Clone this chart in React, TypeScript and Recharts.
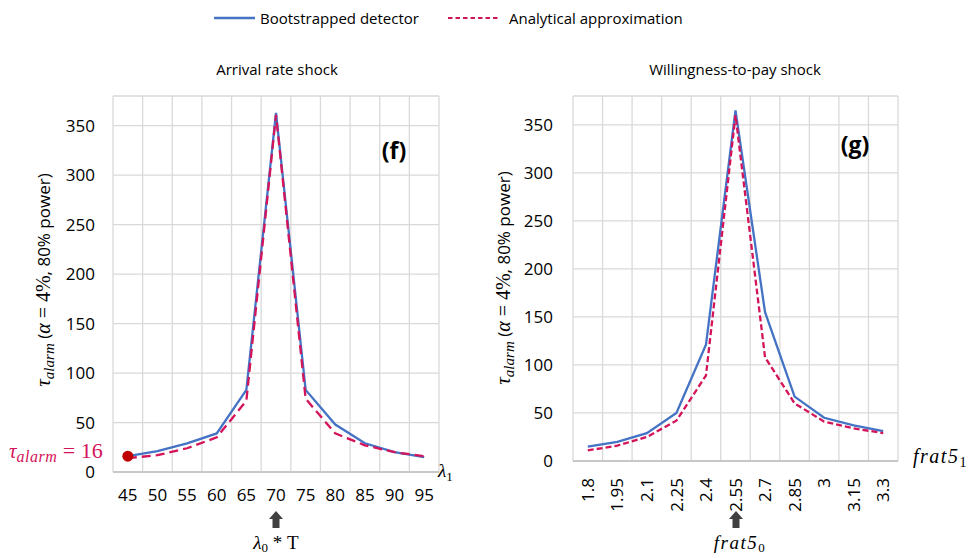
import React from "react";
import {
  LineChart,
  Line,
  XAxis,
  YAxis,
  CartesianGrid,
  ReferenceDot,
} from "recharts";

// arrival rate shock (panel f)
const lambdaLabels = ["45", "50", "55", "60", "65", "70", "75", "80", "85", "90", "95"];
const bootArrival = [16, 21, 29, 39, 83, 363, 83, 48, 29, 20, 15];
const approxArrival = [14, 17, 24, 35, 72, 361, 74, 39, 27, 20, 16];

// willingness-to-pay shock (panel g)
const fratLabels = ["1.8", "1.95", "2.1", "2.25", "2.4", "2.55", "2.7", "2.85", "3", "3.15", "3.3"];
const bootWtp = [15, 20, 29, 50, 121, 365, 155, 67, 45, 37, 31];
const approxWtp = [11, 16, 25, 42, 89, 360, 108, 60, 41, 34, 29];

const yTicks = [0, 50, 100, 150, 200, 250, 300, 350];
const alarmAt = 16;

const BLUE = "#4472C4";
const RED = "#D4145A";
const GRID = "#D9D9D9";
const SANS = "'Open Sans', sans-serif";
const MATH = "'Liberation Serif', serif";

const idx = lambdaLabels.map((_, i) => i);
const bounds = [...idx.map((i) => i - 0.5), idx.length - 0.5];

const arrivalData = lambdaLabels.map((c, i) => ({
  i,
  cat: c,
  boot: bootArrival[i],
  approx: approxArrival[i],
}));
const wtpData = fratLabels.map((c, i) => ({
  i,
  cat: c,
  boot: bootWtp[i],
  approx: approxWtp[i],
}));

const tickStyle = { fontFamily: SANS, fontSize: 17, fill: "#000" };

function RotatedTick({ x, y, payload }: any) {
  return (
    <g transform={`translate(${x},${y})`}>
      <text
        transform="rotate(-90)"
        x={-15}
        dy="0.36em"
        textAnchor="end"
        style={tickStyle}
      >
        {fratLabels[payload.value]}
      </text>
    </g>
  );
}

function YLabel({ x, y }: { x: number; y: number }) {
  return (
    <text
      transform={`translate(${x},${y}) rotate(-90)`}
      textAnchor="middle"
      fontFamily={SANS}
      fontSize={17}
    >
      <tspan fontFamily={MATH} fontStyle="italic" fontSize={21}>τ</tspan>
      <tspan fontFamily={MATH} fontStyle="italic" fontSize={15} dy={4}>alarm</tspan>
      <tspan dy={-4}> (</tspan>
      <tspan fontFamily={MATH} fontStyle="italic" fontSize={20}>α</tspan>
      <tspan fontFamily={MATH} fontSize={20}> = 4%</tspan>
      <tspan>, 80% power)</tspan>
    </text>
  );
}

function UpArrow({ cx }: { cx: number }) {
  const p = `${cx},511 ${cx + 7},519 ${cx + 3.5},519 ${cx + 3.5},528 ${cx - 3.5},528 ${cx - 3.5},519 ${cx - 7},519`;
  return <polygon points={p} fill="#404040" />;
}

export default function App() {
  return (
    <div
      style={{
        position: "absolute",
        left: 0,
        top: 0,
        width: 971,
        height: 558,
        background: "#fff",
        overflow: "hidden",
      }}
    >
      <div style={{ position: "absolute", left: 0, top: 0 }}>
        <LineChart
          width={480}
          height={558}
          data={arrivalData}
          margin={{ top: 96, right: 41, bottom: 56, left: 0 }}
        >
          <XAxis
            xAxisId="grid"
            type="number"
            dataKey="i"
            domain={[-0.5, 10.5]}
            ticks={bounds}
            hide
          />
          <CartesianGrid xAxisId="grid" stroke={GRID} strokeWidth={1.3} />
          <XAxis
            type="number"
            dataKey="i"
            domain={[-0.5, 10.5]}
            ticks={idx}
            tickFormatter={(v) => lambdaLabels[v]}
            interval={0}
            height={30}
            tickLine={false}
            tickSize={0}
            tickMargin={17}
            axisLine={{ stroke: "#BFBFBF", strokeWidth: 1.3 }}
            tick={tickStyle}
          />
          <YAxis
            width={113}
            domain={[0, 380]}
            ticks={yTicks}
            interval={0}
            tickLine={false}
            axisLine={false}
            tickSize={0}
            tickMargin={18}
            tick={tickStyle}
          />
          <Line
            dataKey="boot"
            stroke={BLUE}
            strokeWidth={2.3}
            dot={false}
            isAnimationActive={false}
          />
          <Line
            dataKey="approx"
            stroke={RED}
            strokeWidth={2.3}
            strokeDasharray="9 5"
            dot={false}
            isAnimationActive={false}
          />
          <ReferenceDot x={0} y={alarmAt} r={5.5} fill="#C00000" stroke="none" />
        </LineChart>
      </div>

      <div style={{ position: "absolute", left: 490, top: 0 }}>
        <LineChart
          width={481}
          height={558}
          data={wtpData}
          margin={{ top: 96, right: 73, bottom: 67, left: 0 }}
        >
          <XAxis
            xAxisId="grid"
            type="number"
            dataKey="i"
            domain={[-0.5, 10.5]}
            ticks={bounds}
            hide
          />
          <CartesianGrid xAxisId="grid" stroke={GRID} strokeWidth={1.3} />
          <XAxis
            type="number"
            dataKey="i"
            domain={[-0.5, 10.5]}
            ticks={idx}
            interval={0}
            height={30}
            tickLine={false}
            tickSize={0}
            axisLine={{ stroke: "#BFBFBF", strokeWidth: 1.3 }}
            tick={<RotatedTick />}
          />
          <YAxis
            width={83}
            domain={[0, 380]}
            ticks={yTicks}
            interval={0}
            tickLine={false}
            axisLine={false}
            tickSize={0}
            tickMargin={20}
            tick={tickStyle}
          />
          <Line
            dataKey="boot"
            stroke={BLUE}
            strokeWidth={2.3}
            dot={false}
            isAnimationActive={false}
          />
          <Line
            dataKey="approx"
            stroke={RED}
            strokeWidth={2.3}
            strokeDasharray="6 3"
            dot={false}
            isAnimationActive={false}
          />
        </LineChart>
      </div>

      <svg
        width={971}
        height={558}
        style={{ position: "absolute", left: 0, top: 0, pointerEvents: "none" }}
      >
        {/* legend */}
        <line x1={214} y1={18} x2={255} y2={18} stroke={BLUE} strokeWidth={2.3} />
        <text x={260} y={23.5} fontFamily={SANS} fontSize={15}>Bootstrapped detector</text>
        <line x1={448} y1={18} x2={500} y2={18} stroke={RED} strokeWidth={2} strokeDasharray="4.5 3" />
        <text x={509} y={23.5} fontFamily={SANS} fontSize={15}>Analytical approximation</text>

        {/* titles */}
        <text x={277} y={75} textAnchor="middle" fontFamily={SANS} fontSize={15}>Arrival rate shock</text>
        <text x={735} y={75} textAnchor="middle" fontFamily={SANS} fontSize={15}>Willingness-to-pay shock</text>

        <text x={394} y={159} textAnchor="middle" fontFamily={SANS} fontSize={23} fontWeight="bold">(f)</text>
        <text x={855} y={153} textAnchor="middle" fontFamily={SANS} fontSize={23} fontWeight="bold">(g)</text>

        <YLabel x={50} y={280} />
        <YLabel x={510} y={278} />

        {/* alarm label */}
        <text x={9} y={458} fontFamily={MATH} fill={RED} fontSize={21}>
          <tspan fontStyle="italic">τ</tspan>
          <tspan fontStyle="italic" fontSize={16} dy={4} letterSpacing={0.5}>alarm</tspan>
          <tspan dy={-4} fontSize={22}>{" = 16"}</tspan>
        </text>

        {/* axis names */}
        <text x={438} y={477} fontFamily={MATH} fontStyle="italic" fontSize={19}>
          λ<tspan fontStyle="normal" fontSize={13} dy={4}>1</tspan>
        </text>
        <text x={913} y={463} fontFamily={MATH} fontStyle="italic" fontSize={20} letterSpacing={1.5}>
          frat5<tspan fontStyle="normal" fontSize={14} dy={4}>1</tspan>
        </text>

        {/* reference markers */}
        <UpArrow cx={276} />
        <text x={276} y={549} textAnchor="middle" fontFamily={MATH} fontSize={19}>
          <tspan fontStyle="italic">λ</tspan>
          <tspan fontSize={13} dy={3}>0</tspan>
          <tspan dy={-3}> * T</tspan>
        </text>
        <UpArrow cx={736} />
        <text x={740} y={549} textAnchor="middle" fontFamily={MATH} fontStyle="italic" fontSize={19} letterSpacing={1.5}>
          frat5<tspan fontStyle="normal" fontSize={13} dy={3}>0</tspan>
        </text>
      </svg>
    </div>
  );
}
